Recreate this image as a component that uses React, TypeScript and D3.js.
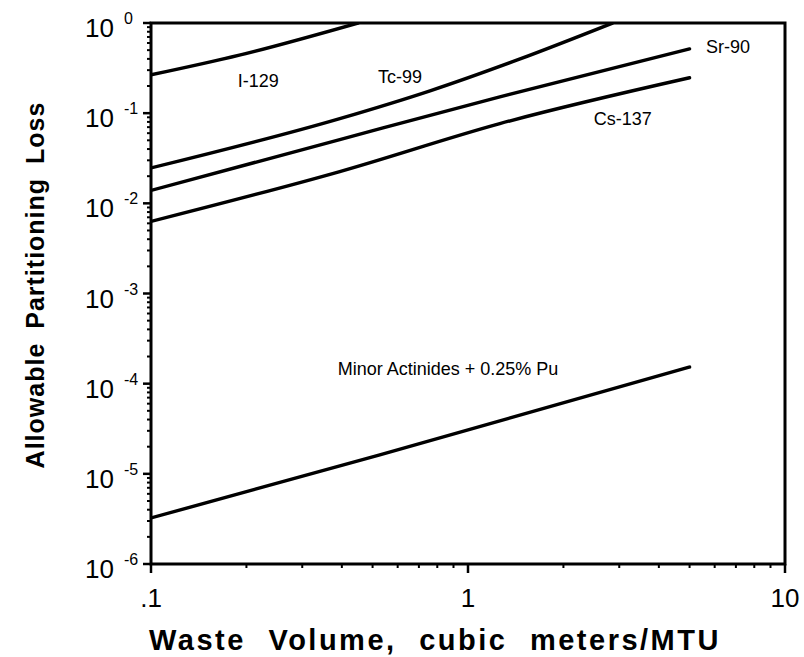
import React from 'react';
import * as d3 from 'd3';

const W = 804;
const H = 657;
const margin = { left: 151, right: 19, top: 23, bottom: 93 };

// values (waste volume in m3/MTU, allowable loss)
const i129Volume = [0.1, 0.19, 0.45];
const i129Loss = [0.266, 0.44, 1.0];
const tc99Volume = [0.1, 0.394, 0.759, 1.46, 2.86];
const tc99Loss = [0.0247, 0.087, 0.177, 0.4, 1.0];
const sr90Volume = [0.1, 0.394, 1.26, 5];
const sr90Loss = [0.0139, 0.051, 0.152, 0.516];
const cs137Volume = [0.1, 0.394, 1.26, 5];
const cs137Loss = [0.0063, 0.0225, 0.0766, 0.247];
const actinideVolume = [0.1, 0.527, 5];
const actinideLoss = [3.24e-6, 1.62e-5, 1.53e-4];

const xTickValues = [0.1, 1, 10];
const xTickLabels = ['.1', '1', '10'];
const yExponents = [0, -1, -2, -3, -4, -5, -6];

const series = [
  { name: 'I-129', xs: i129Volume, ys: i129Loss },
  { name: 'Tc-99', xs: tc99Volume, ys: tc99Loss },
  { name: 'Sr-90', xs: sr90Volume, ys: sr90Loss },
  { name: 'Cs-137', xs: cs137Volume, ys: cs137Loss },
  { name: 'Minor Actinides + 0.25% Pu', xs: actinideVolume, ys: actinideLoss },
];

const font = '"Liberation Sans", Arial, Helvetica, sans-serif';

export default function App() {
  const x = d3.scaleLog().domain([0.1, 10]).range([margin.left, W - margin.right]);
  const y = d3.scaleLog().domain([1e-6, 1]).range([H - margin.bottom, margin.top]);

  const line = d3
    .line<[number, number]>()
    .curve(d3.curveMonotoneX)
    .x(d => x(d[0]))
    .y(d => y(d[1]));

  const x0 = x.range()[0];
  const x1 = x.range()[1];
  const y0 = y.range()[0];
  const y1 = y.range()[1];

  // minor ticks 2..9 within each decade
  const xMinor: number[] = [];
  [0.1, 1].forEach(b => d3.range(2, 10).forEach(m => xMinor.push(b * m)));
  const yMinor: number[] = [];
  d3.range(-6, 0).forEach(e => d3.range(2, 10).forEach(m => yMinor.push(m * Math.pow(10, e))));

  return (
    <svg
      width={W}
      height={H}
      style={{ position: 'absolute', left: 0, top: 0, background: '#fff' }}
      fontFamily={font}
    >
      <defs>
        <clipPath id="plot">
          <rect x={x0} y={y1} width={x1 - x0} height={y0 - y1} />
        </clipPath>
      </defs>

      {/* data lines */}
      <g clipPath="url(#plot)">
        {series.map(s => (
          <path
            key={s.name}
            d={line(s.xs.map((v, i) => [v, s.ys[i]] as [number, number])) || ''}
            fill="none"
            stroke="#000"
            strokeWidth={3.4}
            strokeLinejoin="round"
            strokeLinecap="round"
          />
        ))}
      </g>

      {/* frame */}
      <rect x={x0} y={y1} width={x1 - x0} height={y0 - y1} fill="none" stroke="#000" strokeWidth={3} />

      {/* y ticks */}
      {yMinor.map(v => (
        <line key={'ym' + v} x1={x0} x2={x0 - 4} y1={y(v)} y2={y(v)} stroke="#000" strokeWidth={2} />
      ))}
      {yExponents.map(e => (
        <g key={'y' + e}>
          <line x1={x0} x2={x0 - 8} y1={y(Math.pow(10, e))} y2={y(Math.pow(10, e))} stroke="#000" strokeWidth={2.5} />
          <text x={114} y={y(Math.pow(10, e)) + 14} fontSize={26} textAnchor="end">
            10
          </text>
          <text x={124} y={y(Math.pow(10, e)) + 1} fontSize={16}>
            {e === 0 ? '0' : '-' + Math.abs(e)}
          </text>
        </g>
      ))}

      {/* x ticks */}
      {xMinor.map(v => (
        <line key={'xm' + v} x1={x(v)} x2={x(v)} y1={y0} y2={y0 + 4} stroke="#000" strokeWidth={2} />
      ))}
      {xTickValues.map((v, i) => (
        <g key={'x' + v}>
          <line x1={x(v)} x2={x(v)} y1={y0} y2={y0 + 9} stroke="#000" strokeWidth={2.5} />
          <text x={x(v)} y={607} fontSize={26} textAnchor="middle">
            {xTickLabels[i]}
          </text>
        </g>
      ))}

      {/* series labels */}
      <g fontSize={18}>
        <text x={x(0.218)} y={y(0.195)} textAnchor="middle">I-129</text>
        <text x={x(0.61)} y={y(0.216)} textAnchor="middle">Tc-99</text>
        <text x={x(5.63)} y={y(0.465)}>Sr-90</text>
        <text x={x(3.08)} y={y(0.0739)} textAnchor="middle">Cs-137</text>
        <text x={x(0.865)} y={y(1.25e-4)} textAnchor="middle">Minor Actinides + 0.25% Pu</text>
      </g>

      {/* axis titles */}
      <text
        x={435}
        y={650}
        fontSize={29}
        fontWeight="bold"
        textAnchor="middle"
        letterSpacing={2.5}
        wordSpacing={12}
      >
        Waste Volume, cubic meters/MTU
      </text>
      <text
        transform={`translate(44,${285}) rotate(-90)`}
        fontSize={25}
        fontWeight="bold"
        textAnchor="middle"
        letterSpacing={1}
        wordSpacing={6}
      >
        Allowable Partitioning Loss
      </text>
    </svg>
  );
}
